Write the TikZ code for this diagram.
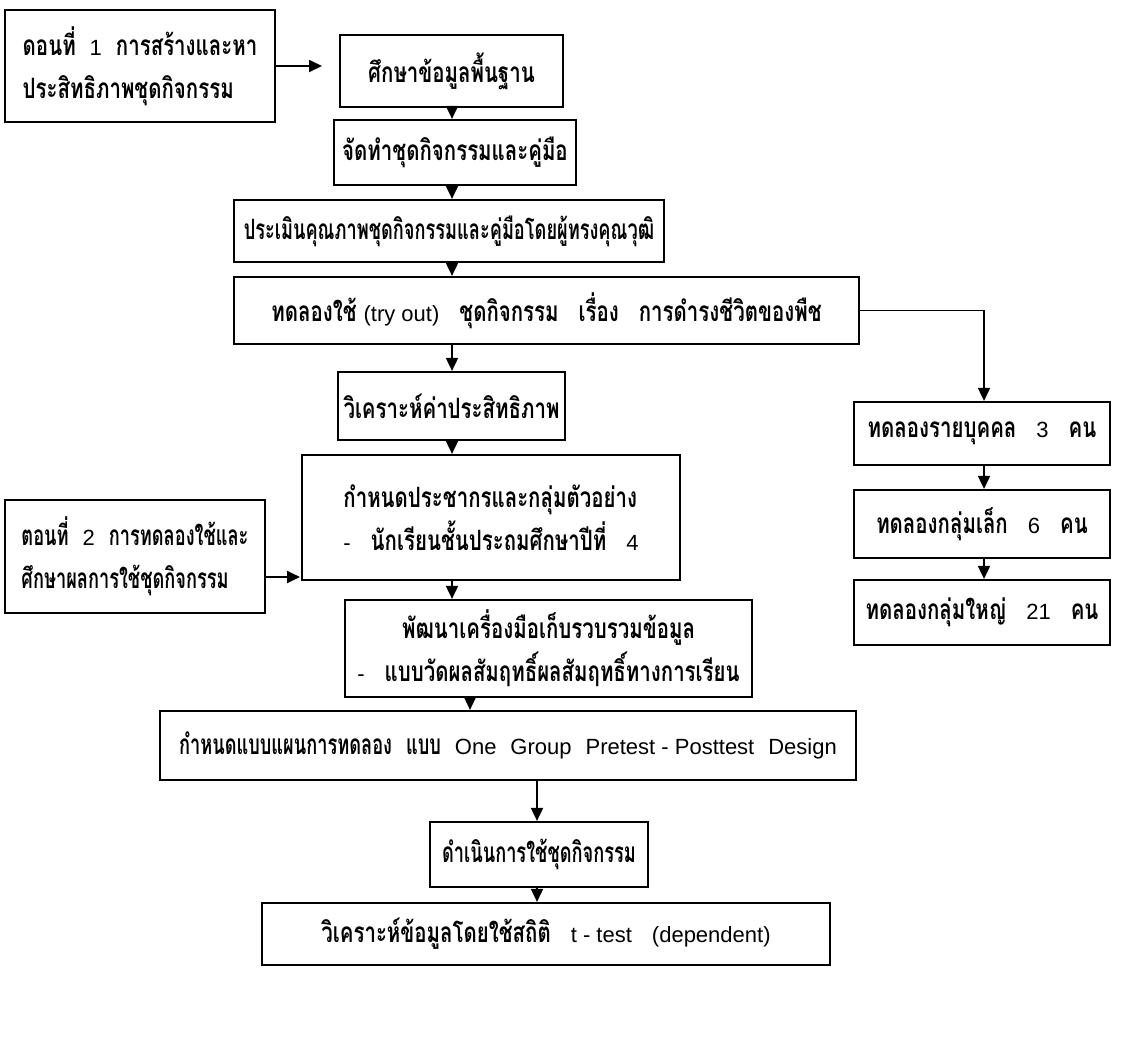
\documentclass[tikz,border=0pt]{standalone}
\usepackage{fontspec}
\setmainfont{Liberation Sans}
\newfontfamily\thaifont[Script=Thai,FakeStretch=0.73]{Loma}
\newfontfamily\thaifontn[Script=Thai,FakeStretch=0.65]{Loma}
\newfontfamily\latinfont{Liberation Sans}
\newcommand\latn[1]{{\latinfont\mdseries\fontsize{11}{13}\selectfont #1}}
\newcommand\gp{\hspace{10pt}}
\newcommand\gps{\hspace{7pt}}
\usetikzlibrary{arrows.meta}
\begin{document}
\begin{tikzpicture}[x=0.5pt,y=-0.5pt,
  box/.style={draw, line width=1.1pt, inner sep=0pt, align=center,
    font=\thaifont\bfseries\fontsize{14}{21.5}\selectfont},
  narrow/.style={font=\thaifontn\bfseries\fontsize{14}{21.5}\selectfont},
  arr/.style={line width=0.9pt, -{Triangle[length=6.5pt,width=6pt]}}]
\useasboundingbox (0,0) rectangle (1145,1050);
% nodes: center (x,y), width, height in px
\node[box, minimum width=135pt, minimum height=56pt, align=left] (p1) at (140,66)
  {ดอนที่\gps\latn{1}\gps การสร้างและหา\\ประสิทธิภาพชุดกิจกรรม};
\node[box, minimum width=111.5pt, minimum height=36pt] (a) at (451.5,71) {ศึกษาข้อมูลพื้นฐาน};
\node[box, minimum width=121pt, minimum height=32.5pt] (b) at (455,152.5) {จัดทำชุดกิจกรรมและคู่มือ};
\node[box, narrow, minimum width=215pt, minimum height=31pt] (c) at (449,231) {ประเมินคุณภาพชุดกิจกรรมและคู่มือโดยผู้ทรงคุณวุฒิ};
\node[box, minimum width=312.5pt, minimum height=33.5pt] (d) at (546.5,310.5)
  {ทดลองใช้ \latn{(try out)}\gp ชุดกิจกรรม\gp เรื่อง\gp การดำรงชีวิตของพืช};
\node[box, minimum width=113.5pt, minimum height=34pt] (e) at (451.5,406) {วิเคราะห์ค่าประสิทธิภาพ};
\node[box, minimum width=189pt, minimum height=62.5pt, align=left] (f) at (491,517.5)
  {กำหนดประชากรและกลุ่มตัวอย่าง\\\latn{-}\gp นักเรียนชั้นประถมศึกษาปีที่\gp\latn{4}};
\node[box, narrow, minimum width=130pt, minimum height=56.5pt, align=left] (p2) at (135,556.5)
  {ตอนที่\gps\latn{2}\gps การทดลองใช้และ\\ศึกษาผลการใช้ชุดกิจกรรม};
\node[box, minimum width=203.5pt, minimum height=48.5pt] (h) at (548.5,648.5)
  {พัฒนาเครื่องมือเก็บรวบรวมข้อมูล\\\latn{-}\gp แบบวัดผลสัมฤทธิ์ผลสัมฤทธิ์ทางการเรียน};
\node[box, narrow, minimum width=348pt, minimum height=34.5pt] (i) at (508,745.5)
  {กำหนดแบบแผนการทดลอง\gps แบบ\gps\latn{One\gps Group\gps Pretest - Posttest\gps Design}};
\node[box, narrow, minimum width=109pt, minimum height=32.5pt] (j) at (539,854.5) {ดำเนินการใช้ชุดกิจกรรม};
\node[box, minimum width=284pt, minimum height=31pt] (k) at (546,934)
  {วิเคราะห์ข้อมูลโดยใช้สถิติ\gp\latn{t - test\gp(dependent)}};
\node[box, minimum width=128pt, minimum height=31.5pt] (r1) at (982,433.5) {ทดลองรายบุคคล\gp\latn{3}\gp คน};
\node[box, minimum width=128pt, minimum height=34pt] (r2) at (982,524) {ทดลองกลุ่มเล็ก\gp\latn{6}\gp คน};
\node[box, minimum width=128pt, minimum height=32.5pt] (r3) at (982,612.5) {ทดลองกลุ่มใหญ่\gp\latn{21}\gp คน};
% side arrows
\coordinate (p1t) at (322,66);
\coordinate (p2t) at (300,577);
\draw[arr] (p1.east) -- (p1t);
\draw[arr] (p2.east |- p2t) -- (p2t);
% main chain
\draw[arr] (a.south -| 452,0) -- (b.north -| 452,0);
\draw[arr] (b.south -| 452,0) -- (c.north -| 452,0);
\draw[arr] (c.south -| 452,0) -- (d.north -| 452,0);
\draw[arr] (d.south -| 452,0) -- (e.north -| 452,0);
\draw[arr] (e.south -| 452,0) -- (f.north -| 452,0);
\draw[arr] (f.south -| 452,0) -- (h.north -| 452,0);
\draw[arr] (h.south -| 470,0) -- (i.north -| 470,0);
\draw[arr] (i.south -| 537,0) -- (j.north -| 537,0);
\draw[arr] (j.south -| 537,0) -- (k.north -| 537,0);
% branch
\draw[arr] (d.east) -| (r1.north -| 984,0);
\draw[arr] (r1.south -| 984,0) -- (r2.north -| 984,0);
\draw[arr] (r2.south -| 984,0) -- (r3.north -| 984,0);
\end{tikzpicture}
\end{document}
